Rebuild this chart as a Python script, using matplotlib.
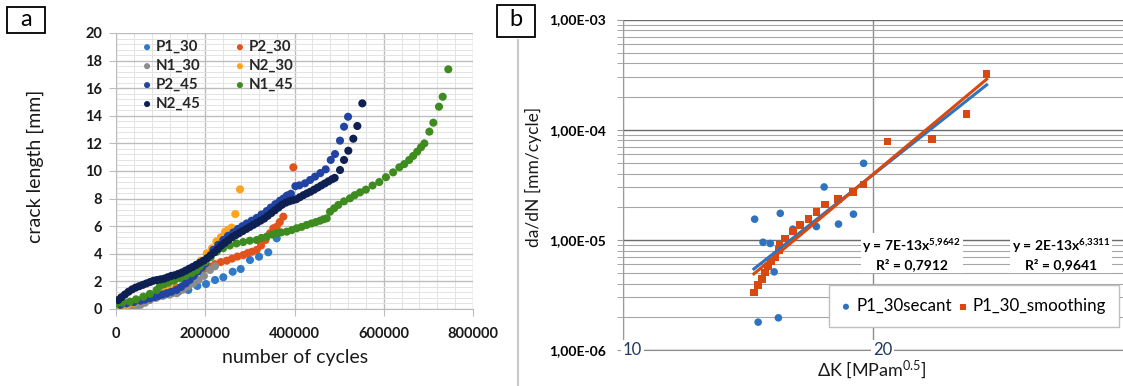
import numpy as np
import matplotlib
matplotlib.use('Agg')
import matplotlib.pyplot as plt
from matplotlib.lines import Line2D
from matplotlib.patches import Rectangle
from matplotlib.ticker import (MultipleLocator, FixedLocator, FixedFormatter,
                               NullLocator, NullFormatter, LogLocator, StrMethodFormatter)

plt.rcParams['font.family'] = ['Lato', 'DejaVu Sans']
plt.rcParams['mathtext.fontset'] = 'custom'
plt.rcParams['mathtext.rm'] = 'Lato'
plt.rcParams['mathtext.bf'] = 'Lato:bold'
plt.rcParams['mathtext.it'] = 'Lato:italic'

# ---- panel a: crack length vs number of cycles ----
cyc_P1_30 = [8000, 20000, 35000, 50000, 65000, 80000, 95000, 110000, 125000, 139600, 162000,
             182200, 201700, 221900, 240500, 261500, 279400, 300300, 320500, 341300, 360100]
len_P1_30 = [0.20, 0.30, 0.45, 0.58, 0.72, 0.85, 0.95, 1.05, 1.15, 1.25, 1.38,
             1.67, 1.81, 2.10, 2.30, 2.70, 2.90, 3.55, 3.79, 4.11, 5.12]

cyc_P2_30 = [15000, 35000, 55000, 75000, 95000, 115000, 135000, 155000, 172000, 188200,
             200000, 210700, 222000, 235000, 248100, 260000, 272000, 285300, 295000, 305000,
             315300, 325000, 335000, 345100, 352600, 360100, 367000, 375000, 386200, 397400]
len_P2_30 = [0.15, 0.30, 0.50, 0.75, 1.00, 1.25, 1.55, 1.90, 2.40, 2.83,
             2.95, 3.07, 3.25, 3.40, 3.50, 3.65, 3.80, 3.91, 4.05, 4.15,
             4.28, 4.60, 5.00, 5.49, 5.85, 5.96, 6.30, 6.69, 8.26, 10.27]

cyc_N1_30 = [5000, 15000, 25000, 35000, 46000, 55000, 65000, 76000, 90000, 105000,
             120000, 136000, 150000, 162000, 173000, 185000, 197000, 210700, 222000]
len_N1_30 = [0.05, 0.08, 0.10, 0.12, 0.17, 0.30, 0.45, 0.65, 0.80, 0.95,
             1.05, 1.14, 1.40, 1.65, 1.86, 2.10, 2.40, 2.83, 3.10]

cyc_N2_30 = [10000, 25000, 40000, 55000, 70000, 85000, 100000, 108000, 117000, 130000,
             145000, 160000, 175000, 190000, 203300, 215000, 225000, 235000, 244300, 252000,
             259200, 267400, 277900]
len_N2_30 = [0.15, 0.30, 0.45, 0.60, 0.80, 1.00, 1.30, 1.55, 1.74, 2.00,
             2.30, 2.60, 3.00, 3.50, 4.03, 4.40, 4.90, 5.20, 5.60, 5.75,
             5.90, 6.88, 8.67]

cyc_P2_45 = [10000, 24000, 40000, 55000, 65000, 76200, 86000, 95000, 104000, 113600,
             124000, 136000, 146000, 156000, 165000, 174000, 183000, 192000, 200000, 209000,
             218100, 229000, 240500, 251000, 262900, 273000, 283000, 292900, 304000, 315300,
             326000, 337700, 347000, 357000, 367500, 375000, 382500, 392000, 402000, 410800,
             423600, 435000, 446000, 458000, 469900, 481200, 490800, 502000, 511000, 520000]
len_P2_45 = [0.30, 0.41, 0.50, 0.60, 0.68, 0.78, 0.86, 0.95, 1.05, 1.14,
             1.25, 1.38, 1.60, 1.85, 2.10, 2.40, 2.70, 3.00, 3.30, 3.75,
             4.28, 4.65, 5.00, 5.30, 5.55, 5.80, 6.00, 6.20, 6.40, 6.60,
             6.85, 7.10, 7.35, 7.60, 7.85, 8.00, 8.20, 8.35, 8.90, 8.96,
             9.11, 9.35, 9.59, 9.85, 10.12, 10.80, 11.23, 12.20, 13.21, 13.93]

cyc_N1_45 = [1500, 15000, 31400, 45000, 61200, 76000, 91200, 98600, 108000, 117200,
             130000, 143400, 156000, 169600, 180000, 188200, 200000, 212000, 225600, 240000,
             255000, 270000, 285000, 300000, 315300, 326000, 337700, 350000, 360100, 370000,
             382500, 394000, 404900, 416000, 427300, 438000, 448000, 457200, 465000, 472100,
             479600, 489000, 498200, 511000, 524400, 535000, 546800, 560000, 575000, 590000,
             605000, 621000, 635000, 646000, 657000, 666000, 675000, 683500, 691000, 702200,
             711100, 723800, 732100, 744700]
len_N1_45 = [0.41, 0.47, 0.53, 0.70, 0.89, 1.10, 1.38, 1.67, 1.80, 1.91,
             2.05, 2.22, 2.40, 2.59, 2.80, 3.10, 3.40, 3.75, 4.15, 4.40,
             4.60, 4.75, 4.85, 4.95, 5.00, 5.15, 5.24, 5.40, 5.49, 5.55,
             5.60, 5.72, 5.85, 5.95, 6.09, 6.20, 6.30, 6.40, 6.50, 6.57,
             7.05, 7.30, 7.54, 7.80, 8.02, 8.25, 8.45, 8.65, 8.95, 9.20,
             9.55, 9.90, 10.27, 10.50, 10.80, 11.09, 11.40, 11.72, 12.00, 12.85,
             13.50, 14.66, 15.38, 17.37]

cyc_N2_45 = [5000, 12000, 20000, 28000, 36000, 44000, 52000, 60000, 68000, 76000,
             84000, 92000, 100000, 108000, 116000, 124000, 132000, 140000, 148000, 156000,
             164000, 172000, 180000, 188000, 196000, 204000, 212000, 220000, 228000, 236000,
             244000, 252000, 260000, 268000, 276000, 284000, 292000, 300000, 308000, 316000,
             324000, 332000, 340000, 348000, 356000, 364000, 372000, 380000, 388000, 396000,
             404000, 412000, 420000, 428000, 436000, 444000, 452000, 460000, 468000, 476000,
             484000, 490000, 502000, 511000, 520600, 531800, 540800, 552000]
len_N2_45 = [0.65, 0.85, 1.05, 1.25, 1.42, 1.55, 1.65, 1.75, 1.85, 1.95,
             2.05, 2.10, 2.15, 2.20, 2.30, 2.40, 2.45, 2.55, 2.65, 2.78,
             2.92, 3.05, 3.20, 3.35, 3.50, 3.68, 3.90, 4.10, 4.35, 4.60,
             4.80, 5.00, 5.20, 5.35, 5.50, 5.65, 5.80, 5.95, 6.10, 6.25,
             6.40, 6.55, 6.75, 6.95, 7.15, 7.35, 7.55, 7.70, 7.80, 7.88,
             7.95, 8.10, 8.25, 8.38, 8.50, 8.65, 8.80, 8.95, 9.10, 9.25,
             9.40, 9.50, 10.07, 10.80, 11.47, 12.34, 13.26, 14.90]

# ---- panel b: da/dN vs delta K ----
dk_secant = [14.42, 14.56, 14.76, 15.06, 15.22, 15.40, 15.48, 16.03, 17.11, 17.48, 18.19, 18.96, 19.50]
dadn_secant = [1.54e-5, 1.79e-6, 9.5e-6, 9.27e-6, 5.12e-6, 1.96e-6, 1.74e-5, 1.25e-5, 1.32e-5,
               3.02e-5, 1.39e-5, 1.71e-5, 4.95e-5]

dk_smooth = [14.39, 14.55, 14.71, 14.85, 14.96, 15.10, 15.27, 15.42, 15.45, 15.69, 16.03,
             16.36, 16.74, 17.12, 17.53, 18.15, 18.92, 19.50, 20.83, 23.55, 25.94, 27.42]
dadn_smooth = [3.32e-6, 3.87e-6, 4.39e-6, 5.04e-6, 5.71e-6, 6.34e-6, 6.95e-6, 8.10e-6, 8.99e-6,
               1.03e-5, 1.19e-5, 1.365e-5, 1.55e-5, 1.79e-5, 2.10e-5, 2.35e-5, 2.72e-5, 3.17e-5,
               7.78e-5, 8.18e-5, 1.38e-4, 3.20e-4]

# power-law trendlines (end points)
trend_dk = [14.39, 27.42]
trend_secant = [5.44e-6, 2.55e-4]
trend_smooth = [4.91e-6, 2.87e-4]

b_yticks = [1e-6, 1e-5, 1e-4, 1e-3]
b_yticklabels = ['1,00E-06', '1,00E-05', '1,00E-04', '1,00E-03']
b_xticks = [10, 20]

W, H = 1123, 386
fig = plt.figure(figsize=(W / 100, H / 100), dpi=100)

# ================= panel a =================
ax = fig.add_axes([116 / W, 1 - 309 / H, 357 / W, 276 / H])
series = [
    ('P1_30', cyc_P1_30, len_P1_30, '#3079C6'),
    ('P2_30', cyc_P2_30, len_P2_30, '#E2521C'),
    ('N1_30', cyc_N1_30, len_N1_30, '#8C8C8C'),
    ('N2_30', cyc_N2_30, len_N2_30, '#FFA31A'),
    ('P2_45', cyc_P2_45, len_P2_45, '#2143A3'),
    ('N1_45', cyc_N1_45, len_N1_45, '#3E8C1F'),
    ('N2_45', cyc_N2_45, len_N2_45, '#0E1F52'),
]
handles = {}
for name, xs, ys, col in series:
    handles[name] = ax.scatter(xs, ys, s=34, color=col, edgecolors='none', label=name, zorder=3)

ax.set_xlim(0, 800000)
ax.set_ylim(0, 20)
ax.xaxis.set_major_locator(MultipleLocator(200000))
ax.xaxis.set_minor_locator(MultipleLocator(40000))
ax.yaxis.set_major_locator(MultipleLocator(2))
ax.yaxis.set_minor_locator(MultipleLocator(0.4))
ax.xaxis.set_major_formatter(StrMethodFormatter('{x:.0f}'))
ax.yaxis.set_major_formatter(StrMethodFormatter('{x:.0f}'))
ax.set_axisbelow(True)
ax.grid(which='major', color='#bdbdbd', lw=1.0)
ax.grid(which='minor', color='#e3e3e3', lw=0.7)
for s in ['top', 'right']:
    ax.spines[s].set_visible(False)
for s in ['left', 'bottom']:
    ax.spines[s].set_color('#bdbdbd')
ax.tick_params(which='major', length=5, color='#bdbdbd', labelsize=10.5, labelcolor='#1a1a1a')
ax.tick_params(axis='y', which='major', pad=5)
ax.tick_params(axis='x', which='major', pad=8)
ax.tick_params(which='minor', length=0)
for lbl in ax.get_xticklabels() + ax.get_yticklabels():
    lbl.set_fontweight('bold')

order = ['P1_30', 'N1_30', 'P2_45', 'N2_45', 'P2_30', 'N2_30', 'N1_45']
leg = ax.legend([handles[n] for n in order], order, loc='upper left', ncol=2,
                bbox_to_anchor=(0.066, 0.985), frameon=False, fontsize=10.8,
                handlelength=0.6, handletextpad=0.3, columnspacing=2.3,
                labelspacing=0.33, borderpad=0.2, borderaxespad=0, markerscale=0.75)
for t in leg.get_texts():
    t.set_fontweight('bold')
    t.set_color('#262626')

fig.text(35 / W, 1 - 166 / H, 'crack length [mm]', rotation=90, ha='center', va='center',
         fontsize=14, color='#1a1a1a')
fig.text(295 / W, 1 - 357 / H, 'number of cycles', ha='center', va='center',
         fontsize=14, color='#1a1a1a')

# ================= panel b =================
bx = fig.add_axes([622.5 / W, 1 - 350 / H, 500.5 / W, 330.5 / H])
bx.set_xscale('log')
bx.set_yscale('log')
c_sec, c_smo = '#2E73C0', '#D9480F'
bx.scatter(dk_secant, dadn_secant, s=30, marker='o', color=c_sec, edgecolors='none',
           zorder=3, label='P1_30secant')
bx.scatter(dk_smooth, dadn_smooth, s=30, marker='s', color=c_smo, edgecolors='none',
           zorder=3, label='P1_30_smoothing')
bx.plot(trend_dk, trend_secant, color=c_sec, lw=2.2, zorder=4)
bx.plot(trend_dk, trend_smooth, color=c_smo, lw=2.2, zorder=4)

bx.set_xlim(10, 40)
bx.set_ylim(1e-6, 1e-3)
bx.yaxis.set_major_locator(FixedLocator(b_yticks))
bx.yaxis.set_major_formatter(FixedFormatter(b_yticklabels))
bx.yaxis.set_minor_locator(LogLocator(base=10, subs=np.arange(2, 10)))
bx.yaxis.set_minor_formatter(NullFormatter())
bx.xaxis.set_major_locator(FixedLocator(b_xticks))
bx.xaxis.set_major_formatter(NullFormatter())
bx.xaxis.set_minor_locator(NullLocator())
bx.set_axisbelow(True)
bx.yaxis.grid(True, which='major', color='#6a6a6a', lw=1.0)
bx.yaxis.grid(True, which='minor', color='#a6a6a6', lw=0.8)
bx.xaxis.grid(True, which='major', color='#8c8c8c', lw=1.0)
for s in ['top', 'right']:
    bx.spines[s].set_visible(False)
bx.spines['left'].set_color('#9a9a9a')
bx.spines['bottom'].set_color('#8c8c8c')
bx.tick_params(axis='y', which='both', length=4, color='#9a9a9a', pad=8, labelsize=10)
bx.tick_params(axis='x', which='both', length=0)
for lbl in bx.get_yticklabels():
    lbl.set_fontweight('bold')

for v in b_xticks:
    bx.text(v, b_yticks[0], str(v), ha='left', va='center', fontsize=12, color='#1F3864',
            zorder=6, clip_on=False,
            bbox=dict(fc='white', ec='none', pad=1.5))

eq_kw = dict(transform=bx.transAxes, ha='center', va='center', fontsize=10, fontweight='bold',
             multialignment='center', linespacing=1.35, zorder=5,
             bbox=dict(fc='white', ec='none', pad=1.0))
bx.text(0.578, 0.29, 'y = 7E-13x$^{\\mathbf{5{,}9642}}$\nR² = 0,7912', **eq_kw)
bx.text(0.876, 0.29, 'y = 2E-13x$^{\\mathbf{6{,}3311}}$\nR² = 0,9641', **eq_kw)

bleg = bx.legend(loc='lower right', bbox_to_anchor=(0.992, 0.07), ncol=2, fontsize=12.2,
                 frameon=True, fancybox=False, edgecolor='#bfbfbf', framealpha=1,
                 handlelength=0.5, handletextpad=0.35, columnspacing=0.4, borderpad=0.75,
                 borderaxespad=0, markerscale=0.8)
bleg.get_frame().set_linewidth(1.0)
bleg.set_zorder(7)

fig.text(533 / W, 1 - 177 / H, 'da/dN [mm/cycle]', rotation=90, ha='center', va='center',
         fontsize=12.5, color='#1a1a1a')
fig.text(872 / W, 1 - 370 / H, 'ΔK [MPam$^{0.5}$]', ha='center', va='center',
         fontsize=13, color='#1a1a1a')

# ---- panel letters and divider ----
fig.add_artist(Rectangle((7 / W, 1 - 33 / H), 38 / W, 26 / H, transform=fig.transFigure,
                         fill=False, ec='black', lw=1.3))
fig.text(26 / W, 1 - 19 / H, 'a', ha='center', va='center', fontsize=17)
fig.add_artist(Rectangle((497 / W, 1 - 37 / H), 38 / W, 32 / H, transform=fig.transFigure,
                         fill=False, ec='black', lw=1.3))
fig.text(516 / W, 1 - 20 / H, 'b', ha='center', va='center', fontsize=17)
fig.add_artist(Line2D([518 / W, 518 / W], [0, 1 - 40 / H], transform=fig.transFigure,
                      color='#c8c8c8', lw=1.5))

fig.savefig('out.png', dpi=100)
